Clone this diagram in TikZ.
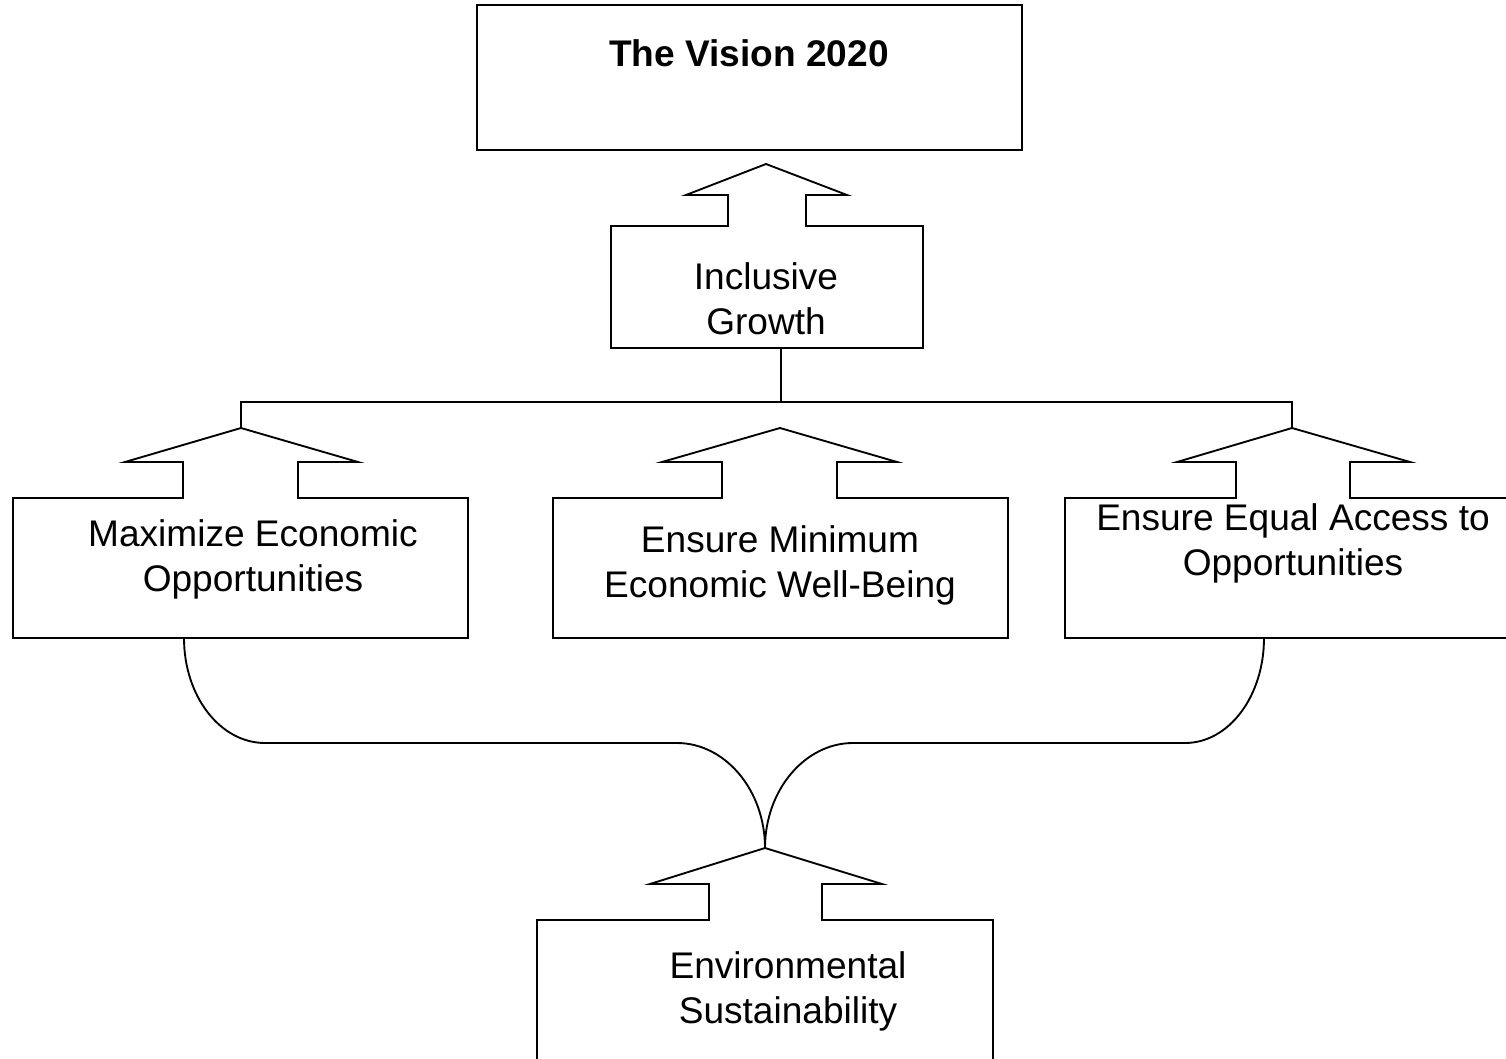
\documentclass[tikz,border=0pt]{standalone}
\usepackage{fontspec}
\setmainfont{Liberation Sans}
\begin{document}
\begin{tikzpicture}[x=0.75pt,y=-0.75pt,
  outline/.style={draw=black,line width=1.4pt,line join=miter},
  label/.style={align=center,inner sep=0pt,font=\fontsize{27.8}{33.75}\selectfont},
  conn/.style={draw=black,line width=1.4pt}]
\useasboundingbox (0,0) rectangle (1506,1059);
\clip (0,0) rectangle (1506,1059);

% top box
\draw[outline] (477,5) rectangle (1022,150);
\node[label,font=\fontsize{27.8}{33.75}\selectfont\bfseries] (vision) at (749,53) {The Vision 2020};

% Inclusive Growth box with arrow
\draw[outline] (611,226) -- (728,226) -- (728,195) -- (686,195) -- (766,164) -- (847,195) -- (806,195) -- (806,226) -- (923,226) -- (923,348) -- (611,348) -- cycle;
\node[label] (ig) at (766,299) {Inclusive\\Growth};

% left box
\draw[outline] (13,498) -- (183,498) -- (183,462) -- (125,462) -- (241,428) -- (358,462) -- (298,462) -- (298,498) -- (468,498) -- (468,638) -- (13,638) -- cycle;
\node[label] (meo) at (253,559) {Maximize Economic\\Opportunities};

% middle box
\draw[outline] (553,498) -- (722,498) -- (722,462) -- (662,462) -- (780,428) -- (897,462) -- (837,462) -- (837,498) -- (1008,498) -- (1008,638) -- (553,638) -- cycle;
\node[label] (emw) at (780,565) {Ensure Minimum\\Economic Well-Being};

% right box (clipped at the page edge)
\draw[outline] (1520,498) -- (1350,498) -- (1350,462) -- (1410,462) -- (1292,428) -- (1177,462) -- (1236,462) -- (1236,498) -- (1065,498) -- (1065,638) -- (1520,638);
\node[label] (eea) at (1293,543) {Ensure Equal Access to\\Opportunities};

% bottom box (clipped at the page edge)
\draw[outline] (537,1075) -- (537,920) -- (709,920) -- (709,884) -- (650,884) -- (765,848) -- (882,884) -- (822,884) -- (822,920) -- (993,920) -- (993,1075);
\node[label] (env) at (788,991) {Environmental\\Sustainability};

% connector coordinates
\coordinate (igB) at (781,348);
\coordinate (busJ) at (781,402);
\coordinate (apexL) at (241,428);
\coordinate (apexR) at (1292,428);
\coordinate (mLeg) at (184,638);
\coordinate (eLeg) at (1264,638);
\coordinate (apexB) at (765,848);

% connectors
\draw[conn] (igB) -- (busJ);
\draw[conn] (apexL) |- (busJ) -| (apexR);
\draw[conn] (mLeg) .. controls (184,696) and (220,743) .. (265,743) -- (677,743) .. controls (725,743) and (765,790) .. (apexB);
\draw[conn] (eLeg) .. controls (1264,696) and (1229,743) .. (1185,743) -- (853,743) .. controls (805,743) and (765,790) .. (apexB);
\end{tikzpicture}
\end{document}
